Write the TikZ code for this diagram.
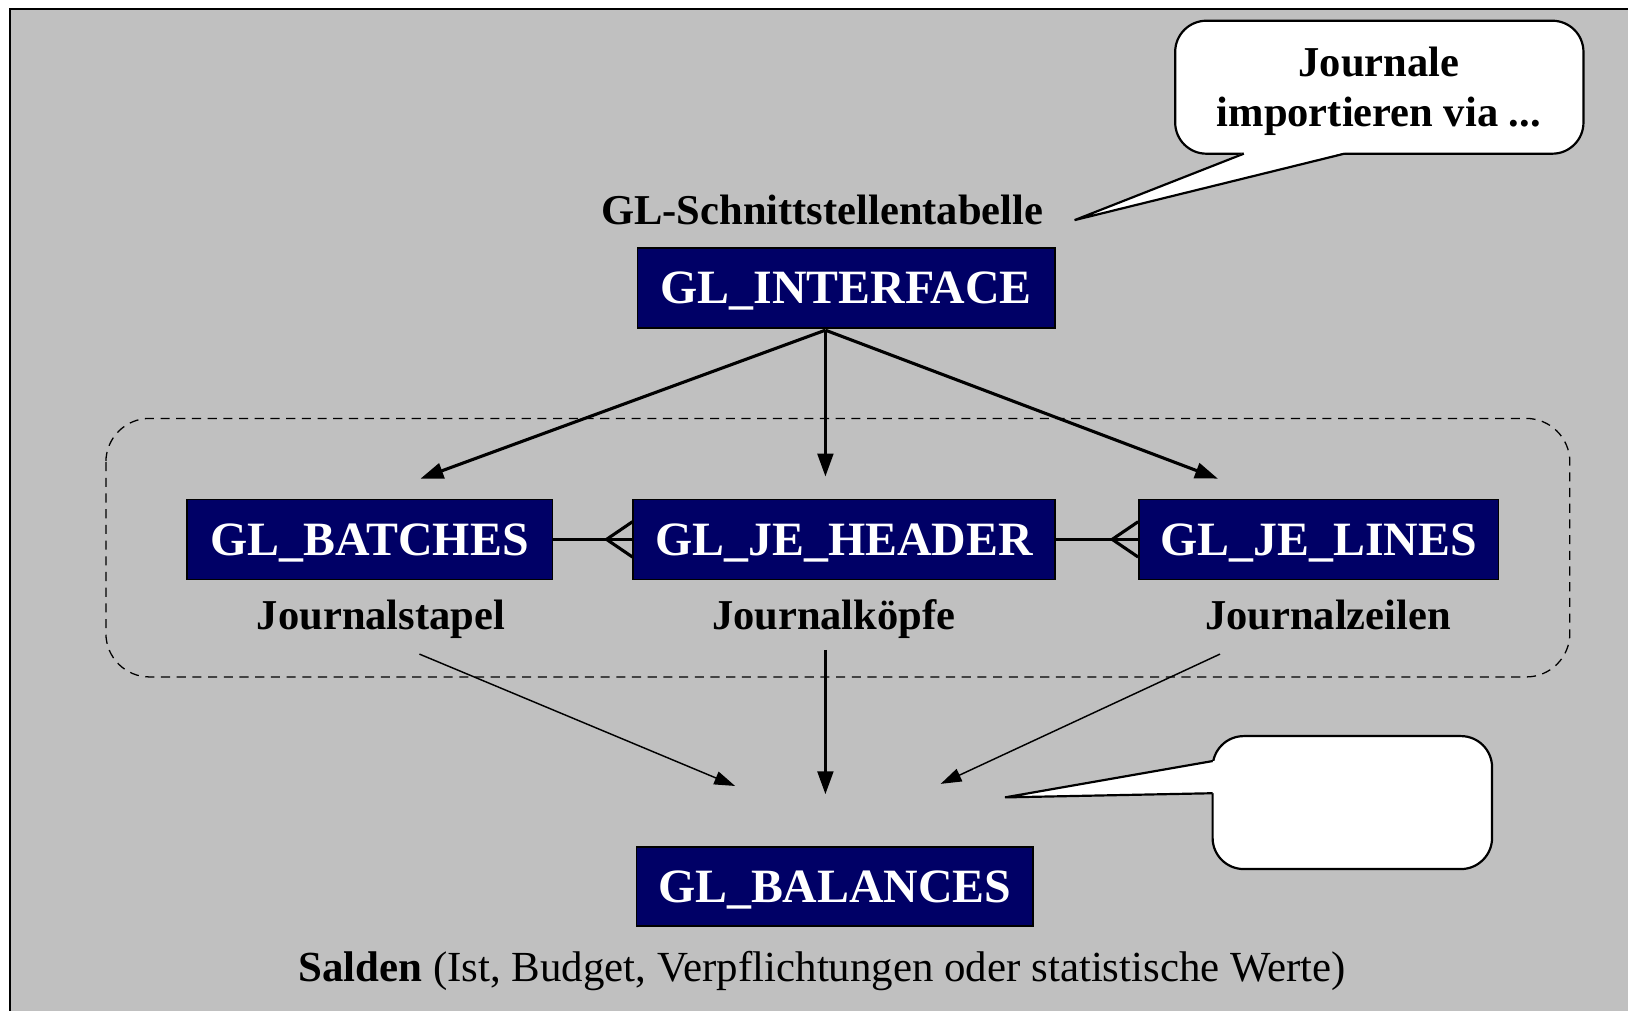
\documentclass[tikz,border=0pt]{standalone}
\usepackage{fontspec}
\setmainfont{Liberation Serif}
\usetikzlibrary{arrows.meta}
\definecolor{tablenavy}{RGB}{0,0,102}
\definecolor{panelgray}{RGB}{192,192,192}
\begin{document}
\begin{tikzpicture}[x=0.01cm,y=-0.01cm]
        \tikzstyle{tablebox}=[draw=black,line width=0.4pt,fill=tablenavy,text=white,font=\fontsize{13.1}{15}\selectfont\bfseries,minimum height=0.77cm,inner sep=0pt,text depth=0pt]
        \tikzstyle{tabcaption}=[font=\fontsize{11.65}{14}\selectfont\bfseries,inner sep=0pt,anchor=base]
        \tikzstyle{bubble}=[draw=black,line width=0.6pt,fill=white,rounded corners=0.3cm,inner sep=0pt]
        \tikzstyle{flow}=[draw,line width=0.85pt,-{Triangle[length=0.22cm,width=0.15cm]}]
        \tikzstyle{thinflow}=[draw,line width=0.4pt,-{Triangle[length=0.2cm,width=0.13cm]}]
        \tikzstyle{link}=[draw,line width=0.85pt]
        \useasboundingbox (0,0) rectangle (1568,973);
        \fill[white] (0,0) rectangle (1568,973);
        \draw[fill=panelgray,line width=0.5pt] (10,9) rectangle (1600,1000);
        \begin{scope}
           \node [tabcaption] (ifacename) at (792,216) {GL-Schnittstellentabelle};
           \node [tablebox,minimum width=4.02cm] (iface) at (815,277.5) {GL\_INTERFACE};
           \node [bubble,minimum width=3.93cm,minimum height=1.28cm] (importnote) at (1328.5,84) {};
           \node [align=center,inner sep=0pt,font=\fontsize{11.65}{13.7}\selectfont\bfseries] (importtext) at (1328,88) {Journale\\importieren via ...};
           \coordinate (importtip) at (1035,212);
           \fill[white] (1198,147) -- (importtip) -- (1295,147) -- (1295,145) -- (1198,145) -- cycle;
           \draw[line width=0.6pt] (1198,148) -- (importtip) -- (1295,148);
           \draw[dashed,line width=0.35pt,dash pattern=on 2.5pt off 1.8pt,rounded corners=0.42cm] (102,403) rectangle (1512,652);
           \node [tablebox,minimum width=3.52cm] (batches) at (356,519.5) {GL\_BATCHES};
           \node [tablebox,minimum width=4.06cm] (header) at (813,519.5) {GL\_JE\_HEADER};
           \node [tablebox,minimum width=3.46cm] (lines) at (1270,519.5) {GL\_JE\_LINES};
           \node [tabcaption] (batchesname) at (367,606) {Journalstapel};
           \node [tabcaption] (headername) at (803,606) {Journalköpfe};
           \node [tabcaption] (linesname) at (1279,606) {Journalzeilen};
           \node [tablebox,minimum width=3.82cm,minimum height=0.76cm] (balances) at (804,854) {GL\_BALANCES};
           \node [font=\fontsize{11.75}{14}\selectfont,inner sep=0pt,anchor=base] (balancesname) at (792,945) {\textbf{Salden} (Ist, Budget, Verpflichtungen oder statistische Werte)};
           \node [bubble,minimum width=2.69cm,minimum height=1.28cm] (totalsnote) at (1302.5,773) {};
           \coordinate (totalstip) at (968,768);
           \fill[white] (1169,733) -- (totalstip) -- (1169,764) -- (1172,764) -- (1172,733) -- cycle;
           \draw[line width=0.6pt] (1168,733) -- (totalstip) -- (1168,764);
           % import paths
           \coordinate (ifaceout) at (795,318);
           \coordinate (batchesin) at (405,461);
           \coordinate (headerin) at (795,459);
           \coordinate (linesin) at (1173,461);
           \path[flow] (ifaceout) -- (batchesin);
           \path[flow] (ifaceout) -- (headerin);
           \path[flow] (ifaceout) -- (linesin);
           % crow's feet
           \path[link] (batches.east) -- (header.west);
           \path[link] (header.west) ++(-25,0) coordinate (batchesfoot) -- ++(25,-17) (batchesfoot) -- ++(25,17);
           \path[link] (header.east) -- (lines.west);
           \path[link] (lines.west) ++(-25,0) coordinate (headerfoot) -- ++(25,-17) (headerfoot) -- ++(25,17);
           % posting
           \coordinate (batchesout) at (404,630);
           \coordinate (headerout) at (795,626);
           \coordinate (linesout) at (1175,630);
           \coordinate (balancesleft) at (708,757);
           \coordinate (balancesin) at (795,765);
           \coordinate (balancesright) at (906,755);
           \path[thinflow] (batchesout) -- (balancesleft);
           \path[flow] (headerout) -- (balancesin);
           \path[thinflow] (linesout) -- (balancesright);
        \end{scope}
\end{tikzpicture}
\end{document}
